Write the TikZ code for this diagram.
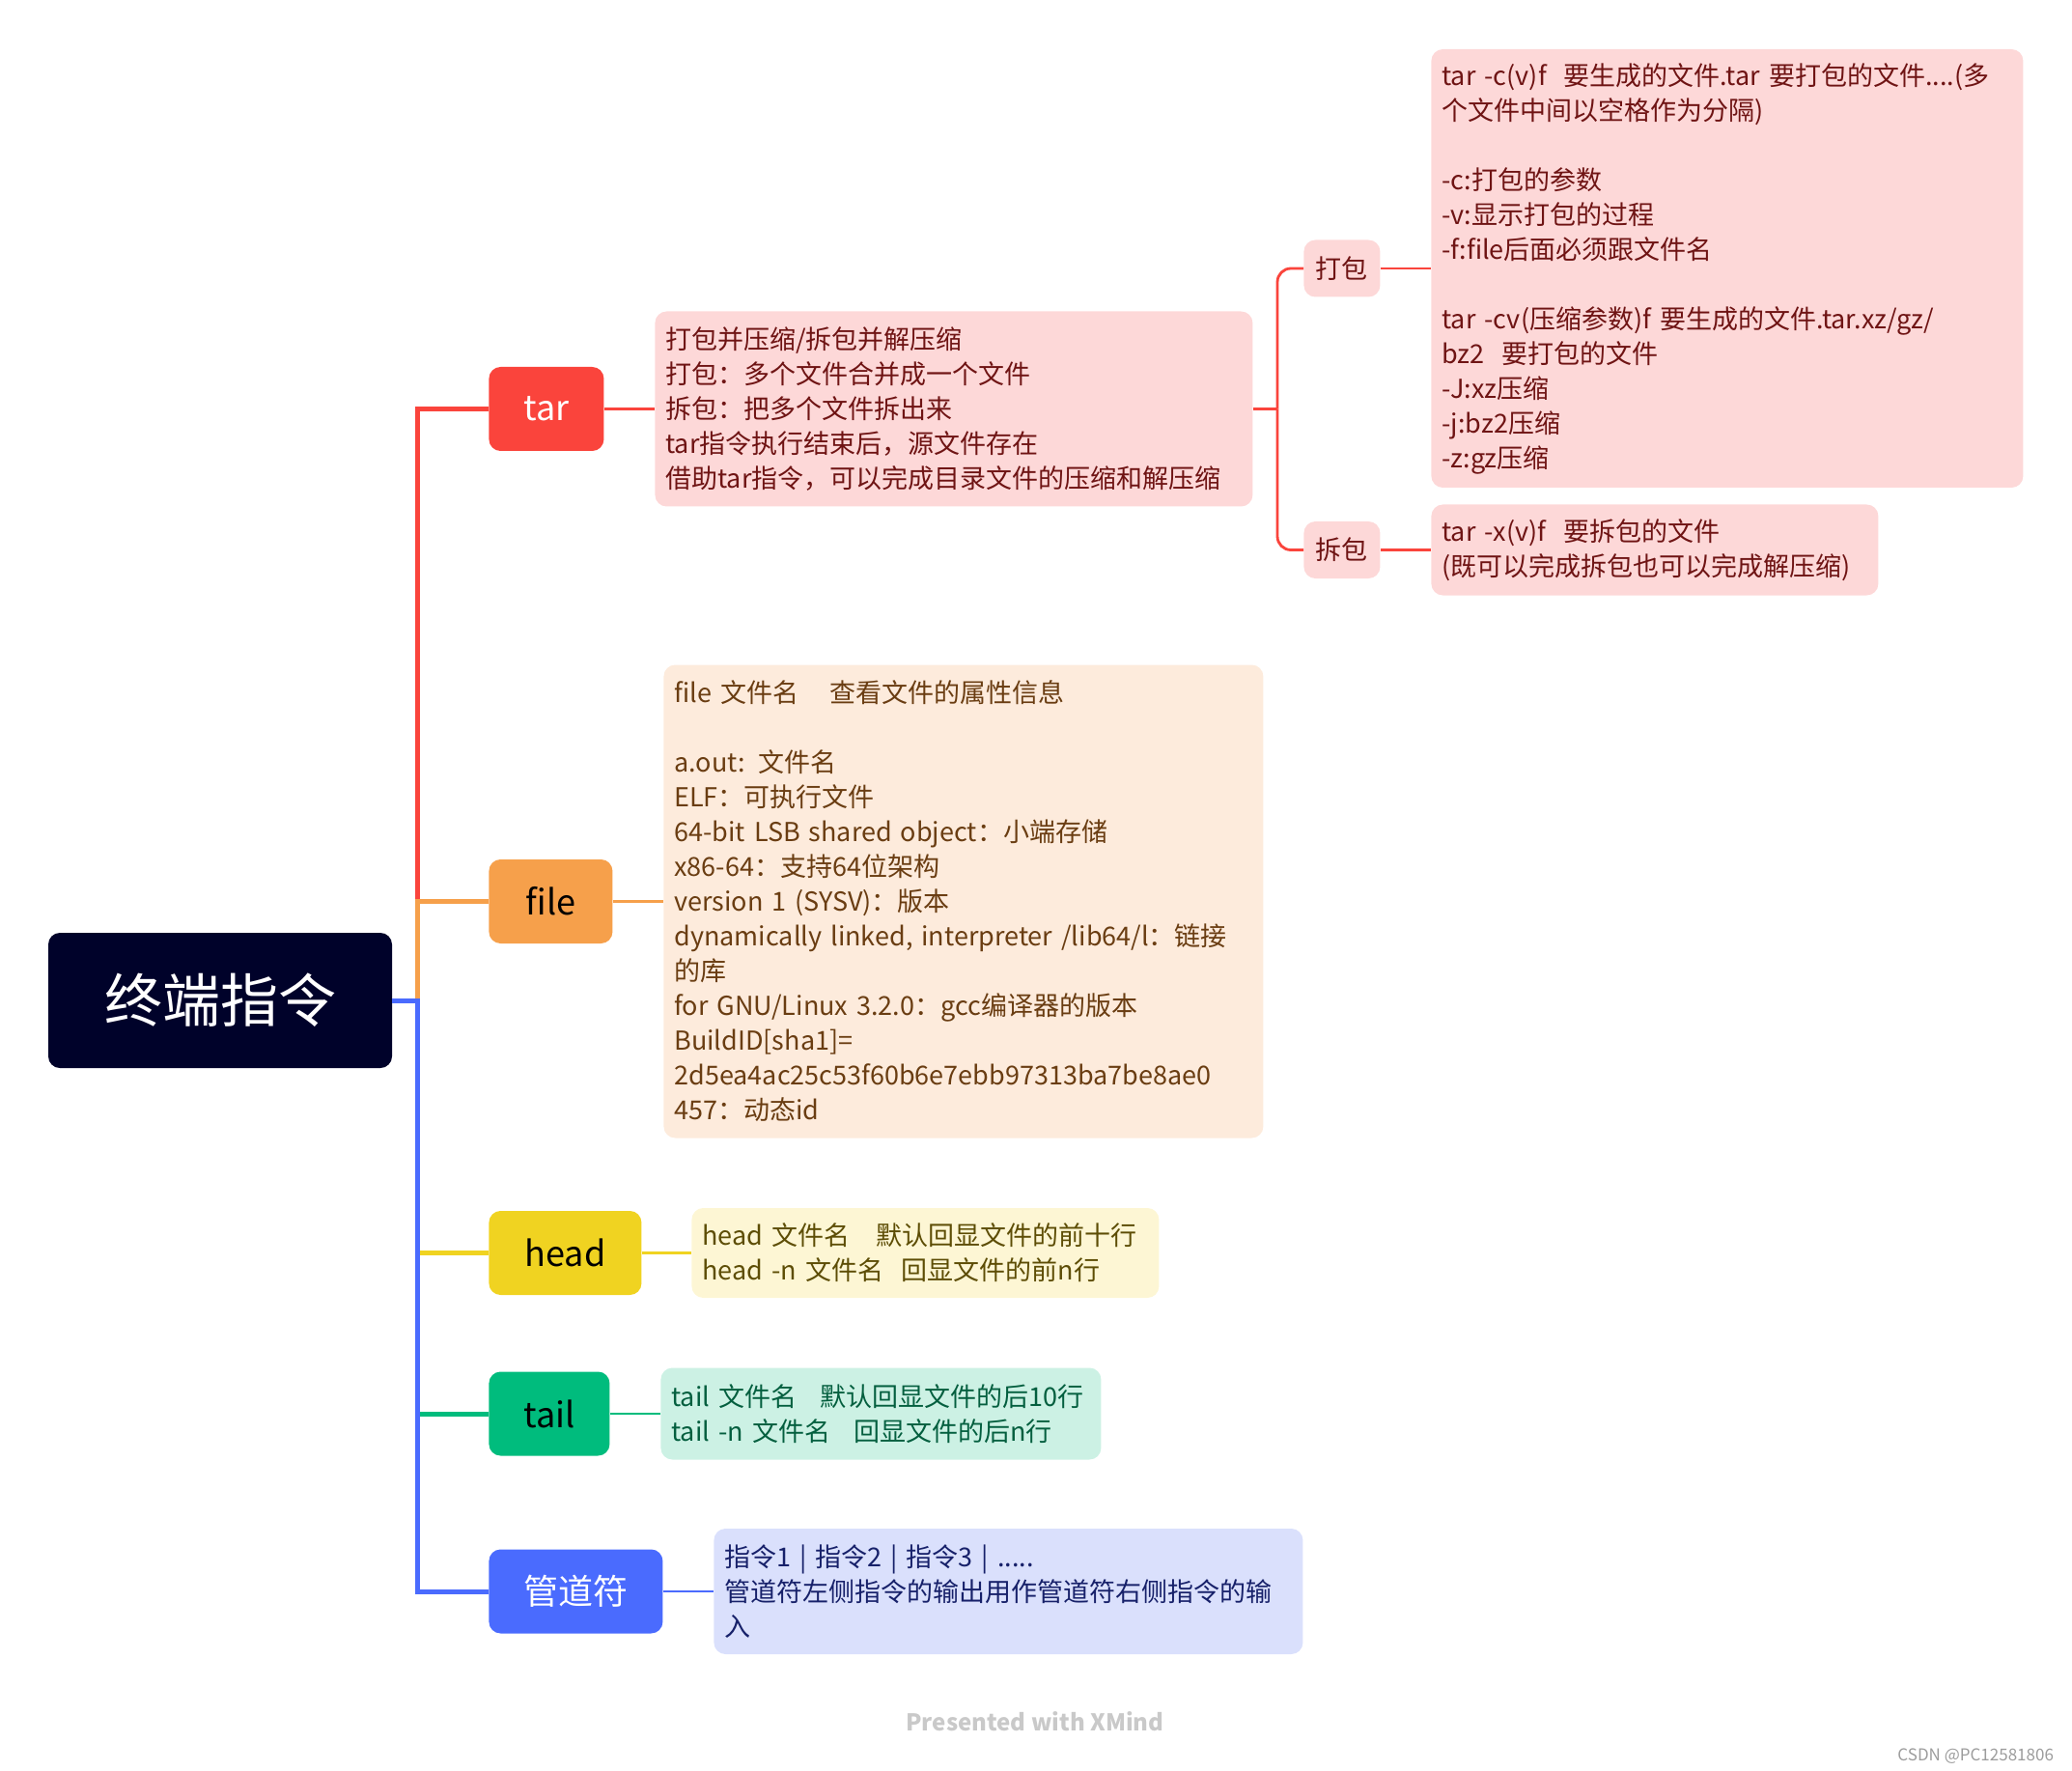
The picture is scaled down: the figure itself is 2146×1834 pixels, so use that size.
\documentclass[tikz,border=0pt]{standalone}
\usepackage{fontspec}
\setmainfont{Noto Sans CJK SC}
\usepackage{tikz}
\usetikzlibrary{calc}
\usepackage{xcolor}
\definecolor{xmroot}{HTML}{00022A}
\definecolor{xmred}{HTML}{FA443C}
\definecolor{xmorange}{HTML}{F6A04B}
\definecolor{xmyellow}{HTML}{F0D321}
\definecolor{xmgreen}{HTML}{00BC7D}
\definecolor{xmblue}{HTML}{4A6BFE}
\definecolor{redbg}{HTML}{FDD8D8}
\definecolor{redtx}{HTML}{6F1414}
\definecolor{orangebg}{HTML}{FDEBDC}
\definecolor{orangetx}{HTML}{6A3D12}
\definecolor{yellowbg}{HTML}{FDF6D4}
\definecolor{yellowtx}{HTML}{5D4D05}
\definecolor{greenbg}{HTML}{CCF1E4}
\definecolor{greentx}{HTML}{045F3F}
\definecolor{bluebg}{HTML}{DAE0FC}
\definecolor{bluetx}{HTML}{17216A}
\definecolor{footgray}{HTML}{C9C9C9}
\definecolor{markgray}{HTML}{9C9C9C}
\tikzset{
  rootbox/.style={fill=xmroot, text=white, rounded corners=6pt, minimum width=178pt, minimum height=70pt, inner sep=0pt, font=\fontsize{30}{36}\selectfont},
  topic/.style={anchor=west, rounded corners=6pt, minimum height=43.5pt, inner sep=0pt, font=\fontsize{18}{22}\selectfont},
  subtopic/.style={anchor=west, fill=redbg, text=redtx, rounded corners=6pt, minimum width=39.5pt, minimum height=29.5pt, inner sep=0pt, font=\fontsize{13.5}{18}\selectfont},
  infobox/.style={anchor=west, rounded corners=6pt, inner xsep=5.5pt, inner ysep=3pt, align=left, font=\fontsize{13.5}{18}\selectfont},
  trunk/.style={line width=2.5pt},
  twig/.style={line width=1.4pt},
}

\begin{document}
\begin{tikzpicture}[x=0.5pt, y=-0.5pt]  % 1 Einheit = 1 px
  \useasboundingbox (0,0) rectangle (2146,1834);
  % Wurzel
  \node[rootbox] (root) at (228,1036) {终端指令};
  % Hauptzweige
  \node[topic, fill=xmred, text=white, minimum width=59.5pt] (tar) at (506,423.5) {tar};
  \node[topic, fill=xmorange, text=black, minimum width=64pt] (file) at (506,933.5) {file};
  \node[topic, fill=xmyellow, text=black, minimum width=79pt] (head) at (506,1297.5) {head};
  \node[topic, fill=xmgreen, text=black, minimum width=62.5pt] (tail) at (506,1464) {tail};
  \node[topic, fill=xmblue, text=white, minimum width=90pt] (pipe) at (506,1648) {管道符};
  % Stamm
  \coordinate (jroot) at (432,1036);
  \draw[trunk, xmyellow] (jroot |- head.west) -- (head.west);
  \draw[trunk, xmgreen] (jroot |- tail.west) -- (tail.west);
  \draw[trunk, xmred] (tar.west) -| (jroot |- file.west);
  \draw[trunk, xmorange] (file.west) -| (jroot);
  \draw[trunk, xmblue] (root.east) -- (jroot) |- (pipe.west);
  % Erlaeuterungen
  \node[infobox, fill=redbg, text=redtx, text width=298.5pt, minimum height=101pt] (tarinfo) at (678,423.5) {%
    打包并压缩/拆包并解压缩\\
    打包：多个文件合并成一个文件\\
    拆包：把多个文件拆出来\\
    tar指令执行结束后，源文件存在\\
    借助tar指令，可以完成目录文件的压缩和解压缩};
  \node[infobox, fill=orangebg, text=orangetx, text width=299.5pt, minimum height=245pt] (fileinfo) at (687,933.5) {%
    file 文件名\hspace{1.2em}查看文件的属性信息\\
    \mbox{}\\
    a.out: 文件名\\
    ELF：可执行文件\\
    64-bit LSB shared object：小端存储\\
    x86-64：支持64位架构\\
    version 1 (SYSV)：版本\\
    dynamically linked, interpreter /lib64/l：链接\\
    的库\\
    for GNU/Linux 3.2.0：gcc编译器的版本\\
    BuildID[sha1]=\\
    2d5ea4ac25c53f60b6e7ebb97313ba7be8ae0\\
    457：动态id};
  \node[infobox, fill=yellowbg, text=yellowtx, text width=231pt, minimum height=46.5pt] (headinfo) at (716,1297.5) {%
    head 文件名\hspace{1em}默认回显文件的前十行\\
    head -n 文件名\hspace{0.7em}回显文件的前n行};
  \node[infobox, fill=greenbg, text=greentx, text width=217pt, minimum height=47.5pt] (tailinfo) at (684,1464) {%
    tail 文件名\hspace{0.9em}默认回显文件的后10行\\
    tail -n 文件名\hspace{0.9em}回显文件的后n行};
  \node[infobox, fill=bluebg, text=bluetx, text width=294pt, minimum height=65pt] (pipeinfo) at (739,1648) {%
    指令1 | 指令2 | 指令3 | .....\\
    管道符左侧指令的输出用作管道符右侧指令的输\\
    入};
  \draw[twig, xmred] (tar.east) -- (tarinfo.west);
  \draw[twig, xmorange] (file.east) -- (fileinfo.west);
  \draw[twig, xmyellow] (head.east) -- (headinfo.west);
  \draw[twig, xmgreen] (tail.east) -- (tailinfo.west);
  \draw[twig, xmblue] (pipe.east) -- (pipeinfo.west);
  % Unterzweige tar
  \node[subtopic] (pack) at (1350,278) {打包};
  \node[subtopic] (unpack) at (1350,569.5) {拆包};
  \coordinate (jtar) at (1323,423.5);
  \draw[twig, xmred] (tarinfo.east) -- (jtar);
  \draw[twig, xmred, rounded corners=7pt] (jtar) |- (pack.west);
  \draw[twig, xmred, rounded corners=7pt] (jtar) |- (unpack.west);
  \node[infobox, fill=redbg, text=redtx, text width=295.5pt, minimum height=227pt] (packinfo) at (1482,278) {%
    tar -c(v)f\ \ 要生成的文件.tar 要打包的文件....(多\\
    个文件中间以空格作为分隔)\\
    \mbox{}\\
    -c:打包的参数\\
    -v:显示打包的过程\\
    -f:file后面必须跟文件名\\
    \mbox{}\\
    tar -cv(压缩参数)f 要生成的文件.tar.xz/gz/\\
    bz2\ \ 要打包的文件\\
    -J:xz压缩\\
    -j:bz2压缩\\
    -z:gz压缩};
  \node[infobox, fill=redbg, text=redtx, text width=220.5pt, minimum height=47pt] (unpackinfo) at (1482,569.5) {%
    tar -x(v)f\ \ 要拆包的文件\\
    (既可以完成拆包也可以完成解压缩)};
  \draw[twig, xmred] (pack.east) -- (packinfo.west);
  \draw[twig, xmred] (unpack.east) -- (unpackinfo.west);
  % Fusszeile
  \node[font=\fontsize{12}{14}\selectfont\bfseries, text=footgray] (credit) at (1072,1783) {Presented with XMind};
  \node[font=\fontsize{8.5}{10}\selectfont, text=markgray, anchor=east] (mark) at (2134,1819) {CSDN @PC12581806};
\end{tikzpicture}
\end{document}
